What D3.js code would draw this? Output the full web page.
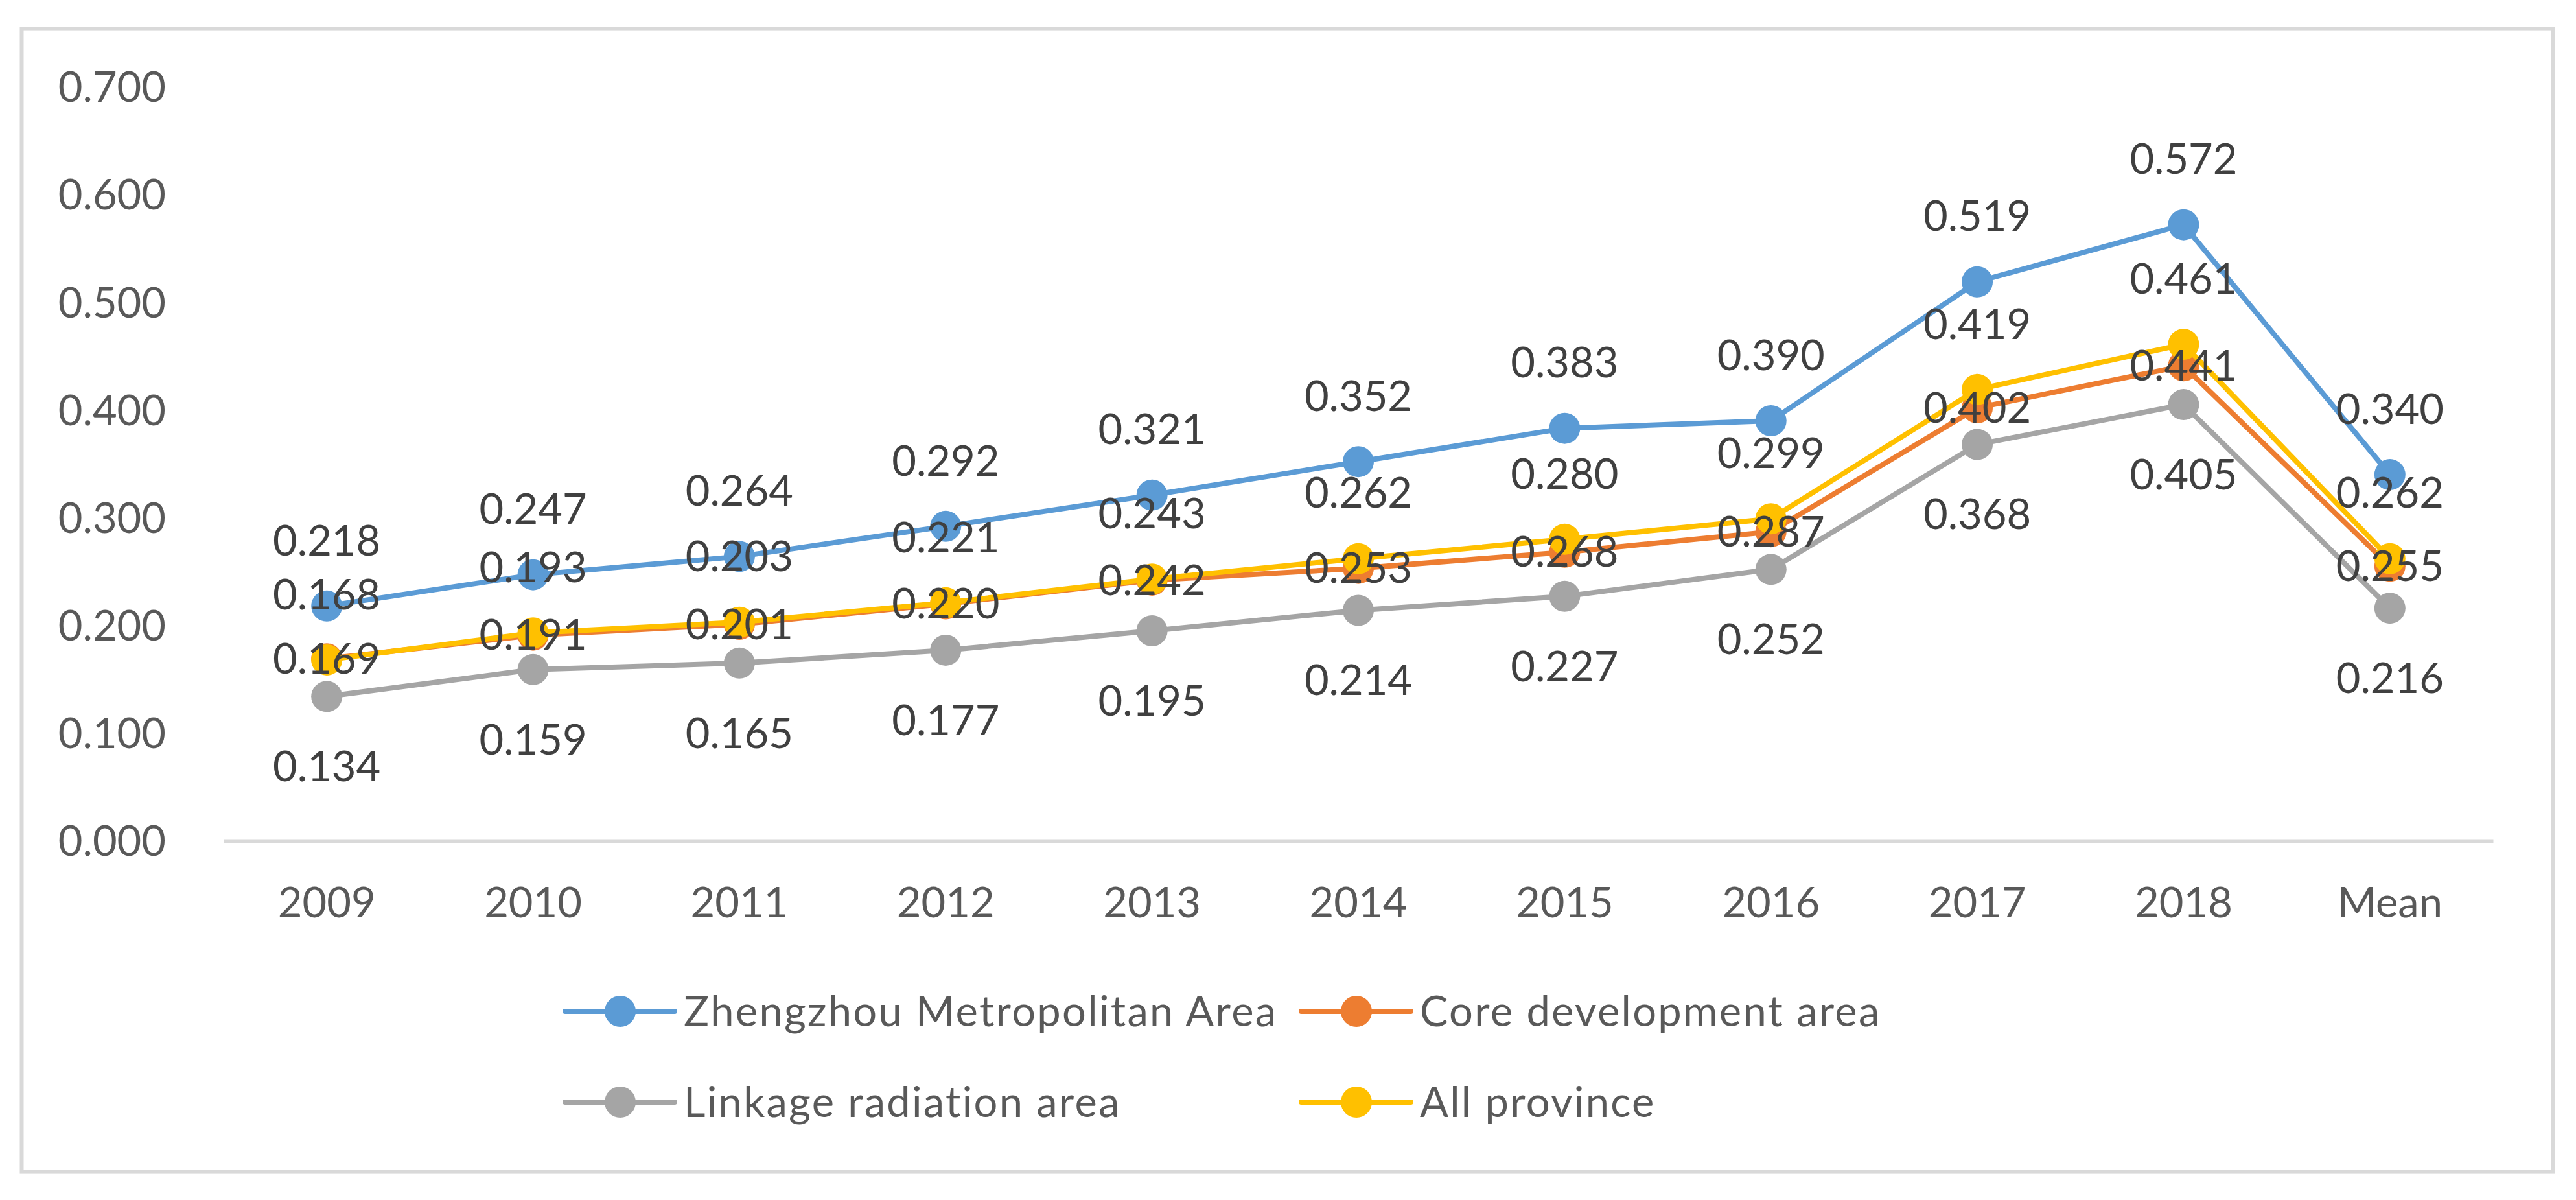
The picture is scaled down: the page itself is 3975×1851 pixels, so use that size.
<!DOCTYPE html>
<html lang="en">
<head>
<meta charset="UTF-8">
<title>Zhengzhou Metropolitan Area index</title>
<script src="https://d3js.org/d3.v7.min.js"></script>
<style>
    body{
        margin: 0;
        background-color: #ffffff;
        font-family: 'Lato', 'Open Sans', sans-serif;
    }
    .chart text{
        font-family: 'Lato', 'Open Sans', sans-serif;
    }
</style>
</head>
<body>
<div class="chart"></div>
<script>

    // categories and series
    var categories = ["2009","2010","2011","2012","2013","2014","2015","2016","2017","2018","Mean"];
    var zhengzhou = [0.218,0.247,0.264,0.292,0.321,0.352,0.383,0.390,0.519,0.572,0.340];
    var coreArea  = [0.169,0.191,0.201,0.220,0.242,0.253,0.268,0.287,0.402,0.441,0.255];
    var linkage   = [0.134,0.159,0.165,0.177,0.195,0.214,0.227,0.252,0.368,0.405,0.216];
    var allProv   = [0.168,0.193,0.203,0.221,0.243,0.262,0.280,0.299,0.419,0.461,0.262];
    var yTicks = [0,0.1,0.2,0.3,0.4,0.5,0.6,0.7];

    var series = [
        {name:"Zhengzhou Metropolitan Area", values:zhengzhou, color:"#5B9BD5", label:"above"},
        {name:"Core development area", values:coreArea, color:"#ED7D31", label:"center"},
        {name:"Linkage radiation area", values:linkage, color:"#A5A5A5", label:"below"},
        {name:"All province", values:allProv, color:"#FFC000", label:"above"}
    ];

    var width = 3975, height = 1851;
    var fontSize = 65;

    var svg = d3.select(".chart")
        .append("svg")
        .attr("width", width)
        .attr("height", height);

    // outer frame
    svg.append("rect")
        .attr("x", 33.5)
        .attr("y", 44.6)
        .attr("width", 3906)
        .attr("height", 1763)
        .attr("fill", "#ffffff")
        .attr("stroke", "#d9d9d9")
        .attr("stroke-width", 6);

    var xScale = d3.scaleBand()
        .domain(categories)
        .range([345, 3847])
        .padding(0);

    var yScale = d3.scaleLinear()
        .domain([0, 0.7])
        .range([1297, 134]);

    function cx(c){ return xScale(c) + xScale.bandwidth()/2 }

    // x axis
    var xAxis = svg.append("g")
        .attr("transform", "translate(0," + yScale(0) + ")")
        .call(d3.axisBottom(xScale).tickSize(0).tickSizeOuter(0));
    xAxis.select(".domain")
        .attr("stroke", "#d9d9d9")
        .attr("stroke-width", 6);
    xAxis.selectAll("text")
        .attr("y", 95)
        .attr("dy", "0.35em")
        .attr("fill", "#595959")
        .style("font-size", fontSize + "px");

    // y axis
    var yAxis = svg.append("g")
        .attr("transform", "translate(256,0)")
        .call(d3.axisLeft(yScale).tickValues(yTicks).tickSize(0).tickPadding(0).tickFormat(d3.format(".3f")));
    yAxis.select(".domain").remove();
    yAxis.selectAll("text")
        .attr("dy", "0.35em")
        .attr("fill", "#595959")
        .style("font-size", fontSize + "px");

    var line = d3.line()
        .x(function(d,i){ return cx(categories[i]) })
        .y(function(d){ return yScale(d) });

    // lines and markers
    series.forEach(function(s){
        var g = svg.append("g");
        g.append("path")
            .datum(s.values)
            .attr("d", line)
            .attr("fill", "none")
            .attr("stroke", s.color)
            .attr("stroke-width", 8)
            .attr("stroke-linejoin", "round");
        g.selectAll("circle")
            .data(s.values)
            .join("circle")
                .attr("cx", function(d,i){ return cx(categories[i]) })
                .attr("cy", function(d){ return yScale(d) })
                .attr("r", 24)
                .attr("fill", s.color);
    });

    // data labels on top
    var offsets = {above:-101, center:0, below:108};
    series.forEach(function(s){
        svg.append("g")
            .selectAll("text")
            .data(s.values)
            .join("text")
                .attr("x", function(d,i){ return cx(categories[i]) })
                .attr("y", function(d){ return yScale(d) + offsets[s.label] })
                .attr("dy", "0.35em")
                .attr("text-anchor", "middle")
                .attr("fill", "#404040")
                .style("font-size", fontSize + "px")
                .text(function(d){ return d3.format(".3f")(d) });
    });

    // legend, two columns by two rows
    var legendX = [872, 2008], legendY = [1560, 1700];
    series.forEach(function(s,i){
        var lx = legendX[i % 2], ly = legendY[Math.floor(i / 2)];
        var g = svg.append("g").attr("transform", "translate(" + lx + "," + ly + ")");
        g.append("line")
            .attr("x1", 0).attr("x2", 169)
            .attr("y1", 0).attr("y2", 0)
            .attr("stroke", s.color)
            .attr("stroke-width", 8)
            .attr("stroke-linecap", "round");
        g.append("circle")
            .attr("cx", 85).attr("cy", 0)
            .attr("r", 24)
            .attr("fill", s.color);
        g.append("text")
            .attr("x", 183)
            .attr("y", 0)
            .attr("dy", "0.35em")
            .attr("fill", "#595959")
            .style("font-size", fontSize + "px")
            .style("letter-spacing", "2.3px")
            .text(s.name);
    });

</script>
</body>
</html>
